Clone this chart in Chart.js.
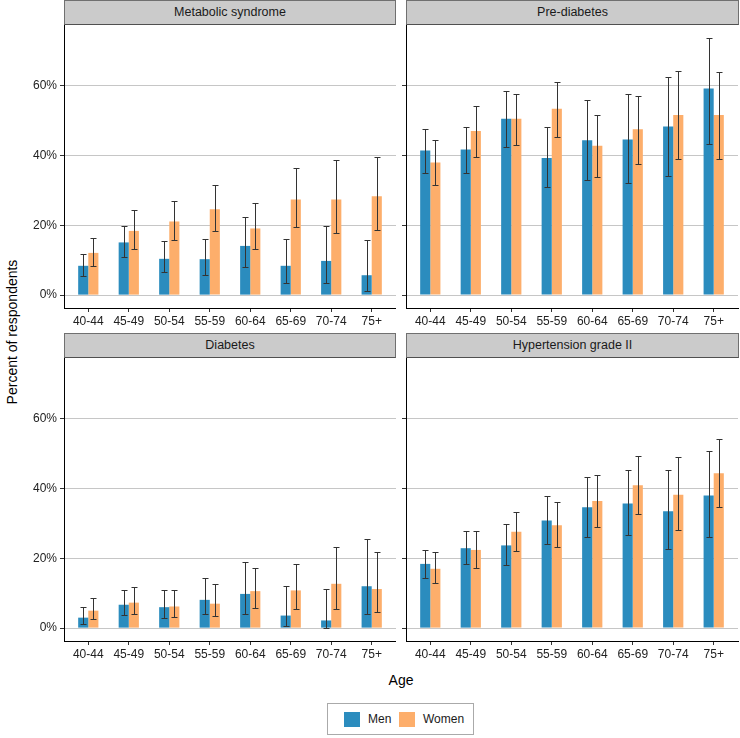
<!DOCTYPE html>
<html>
<head>
<meta charset="utf-8">
<script src="https://cdn.jsdelivr.net/npm/chart.js@4.4.1/dist/chart.umd.min.js"></script>
<style>
  body { margin: 0; background: #fff; font-family: "Liberation Sans", Arial, sans-serif; }
  #wrap { position: relative; width: 740px; height: 738px; overflow: hidden; }
  canvas { position: absolute; }
  .strip {
    position: absolute; box-sizing: border-box; height: 25px;
    background: #cbcbcb; border: 1px solid #707070; border-bottom-color: #505050;
    font-size: 12.5px; color: #1a1a1a; text-align: center; line-height: 23px;
  }
  .title { position: absolute; font-size: 14px; color: #000; white-space: nowrap; }
  #legend {
    position: absolute; left: 327px; top: 703px; width: 147px; height: 32px;
    box-sizing: border-box; border: 1px solid #aaa; font-size: 12px; color: #1a1a1a;
  }
  #legend span.sw { position: absolute; top: 8px; width: 16px; height: 15px; }
  #legend span.lb { position: absolute; top: 8px; line-height: 15px; }
</style>
</head>
<body>
<div id="wrap">
  <div class="strip" style="left:64px; top:0px; width:332px;">Metabolic syndrome</div>
  <div class="strip" style="left:406px; top:0px; width:333px;">Pre-diabetes</div>
  <div class="strip" style="left:64px; top:333px; width:332px;">Diabetes</div>
  <div class="strip" style="left:406px; top:333px; width:333px;">Hypertension grade II</div>

  <canvas id="c1" width="376" height="307" style="left:20px; top:25px;"></canvas>
  <canvas id="c2" width="344" height="307" style="left:396px; top:25px;"></canvas>
  <canvas id="c3" width="376" height="307" style="left:20px; top:358px;"></canvas>
  <canvas id="c4" width="344" height="307" style="left:396px; top:358px;"></canvas>

  <div class="title" style="left:12px; top:332px; transform: translate(-50%, -50%) rotate(-90deg);">Percent of respondents</div>
  <div class="title" style="left:401px; top:680px; transform: translate(-50%, -50%);">Age</div>

  <div id="legend">
    <span class="sw" style="left:16px; background:#2b8cbe;"></span>
    <span class="lb" style="left:40px;">Men</span>
    <span class="sw" style="left:71px; background:#fdae6b;"></span>
    <span class="lb" style="left:95px;">Women</span>
  </div>
</div>

<script>
const ageGroups = ['40-44', '45-49', '50-54', '55-59', '60-64', '65-69', '70-74', '75+'];
const yTicks = [0, 20, 40, 60];

// Metabolic syndrome
const metsMen     = [8.4, 15.1, 10.4, 10.3, 14.1, 8.4, 9.8, 5.7];
const metsMenLo   = [5.4, 11.0, 6.5, 5.9, 8.0, 3.4, 3.6, 1.2];
const metsMenHi   = [11.8, 19.7, 15.5, 16.0, 22.5, 16.2, 19.9, 15.8];
const metsWomen   = [12.1, 18.4, 21.1, 24.6, 19.1, 27.4, 27.4, 28.3];
const metsWomenLo = [8.3, 13.3, 15.8, 18.3, 13.1, 19.4, 17.7, 18.7];
const metsWomenHi = [16.5, 24.3, 27.0, 31.5, 26.3, 36.5, 38.6, 39.5];

// Pre-diabetes
const preMen     = [41.4, 41.7, 50.5, 39.3, 44.4, 44.6, 48.3, 59.2];
const preMenLo   = [35.1, 35.1, 42.4, 30.9, 32.9, 32.1, 34.1, 43.2];
const preMenHi   = [47.7, 48.3, 58.4, 48.3, 56.0, 57.5, 62.5, 73.7];
const preWomen   = [38.0, 47.0, 50.5, 53.4, 42.8, 47.5, 51.6, 51.6];
const preWomenLo = [31.6, 39.5, 43.0, 45.2, 33.8, 37.7, 39.0, 39.0];
const preWomenHi = [44.5, 54.3, 57.6, 61.2, 51.7, 57.0, 64.1, 64.0];

// Diabetes
const diabMen     = [3.0, 6.7, 6.0, 8.1, 9.8, 3.6, 2.2, 12.0];
const diabMenLo   = [1.2, 3.8, 2.9, 4.0, 4.1, 0.5, 0.0, 4.1];
const diabMenHi   = [6.0, 10.8, 10.8, 14.3, 19.0, 12.1, 11.3, 25.6];
const diabWomen   = [5.0, 7.3, 6.2, 7.0, 10.6, 10.8, 12.7, 11.2];
const diabWomenLo = [2.5, 4.0, 3.2, 3.4, 5.7, 5.6, 5.6, 4.7];
const diabWomenHi = [8.6, 11.9, 10.8, 12.5, 17.3, 18.3, 23.2, 21.7];

// Hypertension grade II
const hypMen     = [18.4, 22.9, 23.7, 30.8, 34.6, 35.7, 33.5, 38.0];
const hypMenLo   = [14.5, 18.3, 18.0, 24.1, 26.0, 26.6, 22.7, 26.2];
const hypMenHi   = [22.5, 27.7, 29.7, 37.9, 43.4, 45.3, 45.3, 50.8];
const hypWomen   = [17.0, 22.4, 27.6, 29.5, 36.4, 40.9, 38.2, 44.4];
const hypWomenLo = [12.8, 17.2, 22.1, 23.2, 29.1, 32.7, 28.1, 34.6];
const hypWomenHi = [21.7, 27.9, 33.4, 36.2, 43.8, 49.3, 48.9, 54.3];

const menColor = '#2b8cbe';
const womenColor = '#fdae6b';

Chart.defaults.font.family = '"Liberation Sans", Arial, sans-serif';
Chart.defaults.font.size = 12;
Chart.defaults.color = '#222';

// draws the confidence intervals on top of each bar
const errorBars = {
    id: 'errorBars',
    afterDatasetsDraw(chart) {
        const ctx = chart.ctx;
        const y = chart.scales.y;
        ctx.save();
        ctx.strokeStyle = '#333';
        ctx.lineWidth = 1;
        chart.data.datasets.forEach((ds, i) => {
            chart.getDatasetMeta(i).data.forEach((bar, j) => {
                const x = Math.round(bar.x) + 0.5;
                const top = Math.round(y.getPixelForValue(ds.errHi[j])) + 0.5;
                const bot = Math.round(y.getPixelForValue(ds.errLo[j])) + 0.5;
                ctx.beginPath();
                ctx.moveTo(x, top); ctx.lineTo(x, bot);
                ctx.moveTo(x - 3, top); ctx.lineTo(x + 3, top);
                ctx.moveTo(x - 3, bot); ctx.lineTo(x + 3, bot);
                ctx.stroke();
            });
        });
        ctx.restore();
    }
};

function toPoints(values) {
    return values.map((v, i) => ({ x: i, y: v }));
}

function makePanel(id, men, menLo, menHi, women, womenLo, womenHi, leftSide) {
    return new Chart(document.getElementById(id), {
        type: 'bar',
        data: {
            datasets: [
                { label: 'Men', data: toPoints(men), errLo: menLo, errHi: menHi,
                  backgroundColor: menColor, categoryPercentage: 0.5, barPercentage: 1 },
                { label: 'Women', data: toPoints(women), errLo: womenLo, errHi: womenHi,
                  backgroundColor: womenColor, categoryPercentage: 0.5, barPercentage: 1 }
            ]
        },
        options: {
            responsive: false,
            animation: false,
            layout: { padding: { top: 0, bottom: 0, left: 0, right: leftSide ? 0 : 2 } },
            plugins: { legend: { display: false }, tooltip: { enabled: false } },
            scales: {
                x: {
                    type: 'linear',
                    min: -0.6,
                    max: 7.6,
                    offset: false,
                    grid: { offset: false, drawOnChartArea: false, drawTicks: true, tickLength: 4, tickColor: '#333' },
                    border: { display: true, color: '#000', width: 1 },
                    ticks: { padding: 2, maxRotation: 0, callback: (v) => ageGroups[v] },
                    afterBuildTicks: (scale) => { scale.ticks = ageGroups.map((g, i) => ({ value: i })); },
                    afterFit: (scale) => { scale.height = 24; scale.paddingLeft = 0; scale.paddingRight = 0; }
                },
                y: {
                    min: -3.69,
                    max: 77.39,
                    grid: { color: '#c6c6c6', lineWidth: 1, drawTicks: true, tickLength: 4, tickColor: '#333' },
                    border: { display: true, color: '#000', width: 1 },
                    ticks: { display: leftSide, padding: 3, callback: (v) => v + '%' },
                    afterBuildTicks: (scale) => { scale.ticks = yTicks.map((v) => ({ value: v })); },
                    afterFit: (scale) => { scale.width = leftSide ? 44 : 10; scale.paddingTop = 0; scale.paddingBottom = 0; }
                }
            }
        },
        plugins: [errorBars]
    });
}

makePanel('c1', metsMen, metsMenLo, metsMenHi, metsWomen, metsWomenLo, metsWomenHi, true);
makePanel('c2', preMen, preMenLo, preMenHi, preWomen, preWomenLo, preWomenHi, false);
makePanel('c3', diabMen, diabMenLo, diabMenHi, diabWomen, diabWomenLo, diabWomenHi, true);
makePanel('c4', hypMen, hypMenLo, hypMenHi, hypWomen, hypWomenLo, hypWomenHi, false);
</script>
</body>
</html>
